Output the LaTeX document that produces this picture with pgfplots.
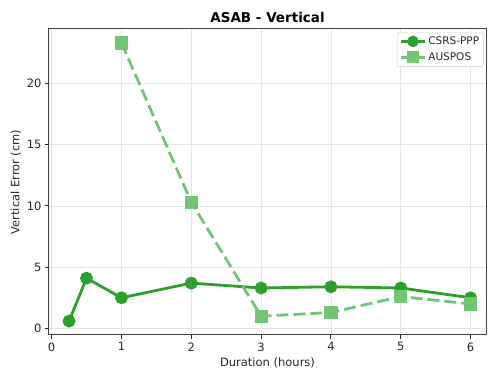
\documentclass[border=0pt]{standalone}
\usepackage{pgfplots}
\pgfplotsset{compat=1.18}
\usepackage{fontspec}
\setmainfont{DejaVu Sans}
\definecolor{csrs}{RGB}{44,160,44}
\definecolor{ausp}{RGB}{116,196,118}
\begin{document}
\begin{tikzpicture}
\begin{axis}[
  at={(0pt,0pt)}, anchor=south west,
  scale only axis, width=437pt, height=306pt,
  xmin=-0.0375, xmax=6.22, ymin=-0.535, ymax=24.435,
  xtick={0,1,2,3,4,5,6}, ytick={0,5,10,15,20},
  tick align=outside, tick pos=left,
  major tick length=4pt,
  every tick/.style={black!85, line width=1pt},
  axis line style={line width=1pt, black!75},
  grid=major, grid style={black!10, line width=0.7pt},
  tick label style={font=\fontsize{11.5}{13}\selectfont, text=black!85},
  /pgf/number format/assume math mode=true,
  title={\bfseries ASAB - Vertical},
  title style={font=\fontsize{13.5}{15}\selectfont, yshift=-3pt},
  xlabel={Duration (hours)}, ylabel={Vertical Error (cm)},
  label style={font=\fontsize{11.5}{13}\selectfont, text=black!85},
  xlabel style={yshift=0pt}, ylabel style={yshift=-1pt},
  legend style={font=\fontsize{10.5}{12}\selectfont, draw=black!20, rounded corners=1.5pt, inner sep=2.5pt, row sep=2.5pt, at={(0.995,0.99)}, anchor=north east, text=black!85},
  legend cell align=left,
  legend image code/.code={\draw[mark repeat=2,mark phase=2,mark size=4.3pt,#1] plot coordinates {(0pt,0pt) (12pt,0pt) (24pt,0pt)};},
]
\addplot[csrs, line width=2.8pt, mark=*, mark size=5pt, mark options={solid}] coordinates {
(0.25,0.6) (0.5,4.1) (1,2.5) (2,3.7) (3,3.3) (4,3.4) (5,3.3) (6,2.5)};
\addlegendentry{CSRS-PPP}
\addplot[ausp, line width=2.8pt, dash pattern=on 12pt off 5pt, mark=square*, mark size=5.2pt, mark options={solid}] coordinates {
(1,23.3) (2,10.3) (3,1.0) (4,1.3) (5,2.6) (6,2.0)};
\addlegendentry{AUSPOS}
\end{axis}
\path[use as bounding box] (-49pt,-37pt) rectangle (439pt,335pt);
\end{tikzpicture}
\end{document}
